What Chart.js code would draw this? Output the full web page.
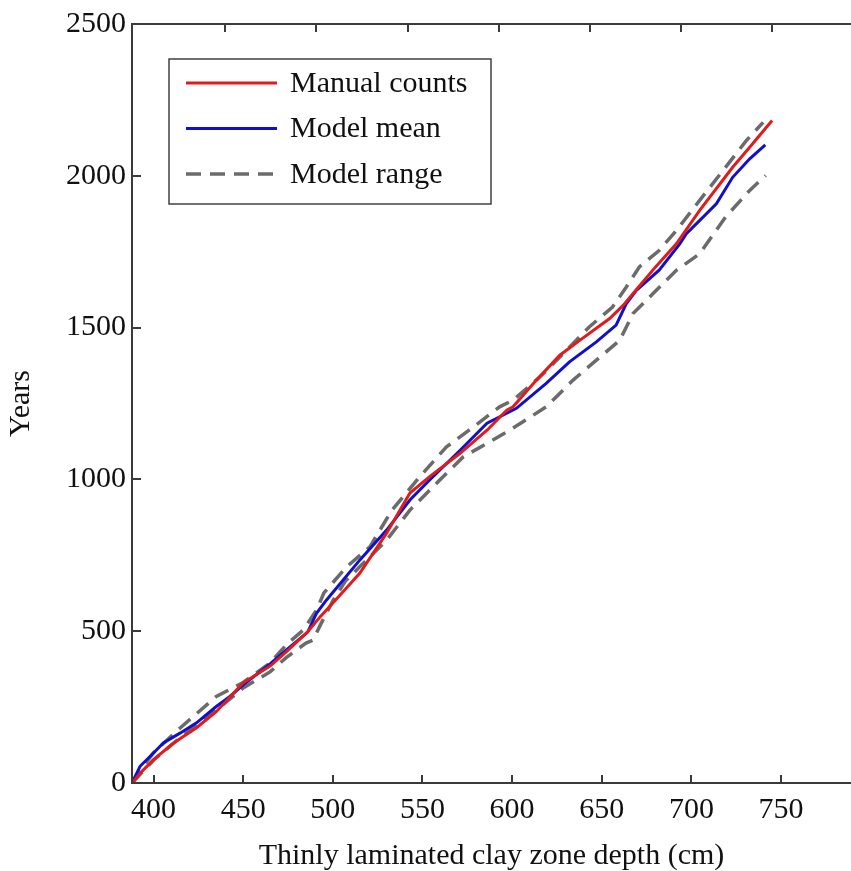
<!DOCTYPE html>
<html>
<head>
<meta charset="utf-8">
<script src="https://cdn.jsdelivr.net/npm/chart.js@4.4.1/dist/chart.umd.min.js"></script>
<style>
  html, body { margin: 0; padding: 0; background: #fff; overflow: hidden; }
  canvas { display: block; }
</style>
</head>
<body>
<canvas id="myChart" width="851" height="871"></canvas>
<script>
// depth (cm) and age (years)
const manualDepth = [388, 393, 400, 411, 424, 435, 450, 465, 474, 486, 493, 498, 515, 530, 543, 554, 571, 586, 597, 600.5, 613.6, 626.6, 637.7, 654.4, 661.9, 669, 680, 691.6, 704.6, 723, 732.5, 745];
const manualYears = [0, 35, 77, 131, 182, 235, 330, 385, 432, 498, 548, 580, 691, 823, 955, 1009, 1086, 1162, 1228, 1239, 1327, 1409, 1458, 1530, 1573, 1623, 1700, 1776, 1886, 2028, 2094, 2182];

const meanDepth = [388, 392.5, 400, 405.5, 415, 424, 435, 442.6, 450, 465, 474, 486, 491, 496.5, 515, 530, 543, 554, 571, 586, 597, 602.4, 619, 632, 647, 658, 663.7, 669.3, 682, 693.5, 697.2, 713.9, 723, 732.5, 741.2];
const meanYears = [0, 55, 99, 132, 165, 198, 252, 285, 323, 392, 438, 497, 560, 603, 734, 833, 932, 998, 1096, 1185, 1218, 1234, 1316, 1387, 1453, 1508, 1579, 1623, 1689, 1776, 1809, 1908, 1995, 2056, 2102];

const upperDepth = [388, 395, 400, 415, 435, 450, 465, 474, 483.5, 491, 495, 507.7, 520.7, 533, 548.5, 563.4, 576, 593, 600.5, 615.4, 630.3, 643, 656, 663.7, 671, 682, 691.6, 704.6, 719, 730.6, 740];
const upperYears = [0, 60, 100, 182, 285, 331, 395, 455, 504, 570, 626, 712, 778, 899, 1009, 1107, 1162, 1239, 1261, 1337, 1425, 1502, 1568, 1634, 1700, 1754, 1820, 1919, 2028, 2116, 2176];

const lowerDepth = [388, 400, 415, 435, 450, 465, 474, 485, 489, 493, 500, 507, 515, 530, 543, 558, 572.7, 586, 598.7, 619, 634, 649, 660, 667.4, 678.6, 691.6, 704.6, 719, 732.5, 741.4];
const lowerYears = [0, 75, 150, 240, 313, 366, 413, 461, 471, 520, 600, 665, 712, 800, 899, 988, 1074, 1119, 1162, 1239, 1327, 1403, 1458, 1546, 1612, 1689, 1743, 1864, 1952, 2001];

const xTicks = [400, 450, 500, 550, 600, 650, 700, 750];
const yTicks = [0, 500, 1000, 1500, 2000, 2500];
const topTicks = [450, 500, 550, 600, 650, 700, 750];

const FONT = "'Liberation Serif', 'Times New Roman', serif";
const AXIS_COLOR = '#3a3a3a';

function pts(xs, ys) {
    return xs.map(function (x, i) { return { x: x, y: ys[i] }; });
}

// frame with inward ticks + legend box
const framePlugin = {
    id: 'frame',
    afterDraw(chart) {
        const ctx = chart.ctx;
        const a = chart.chartArea;
        const x = chart.scales.x;
        const y = chart.scales.y;
        const xt = chart.scales.xTop;
        ctx.save();
        ctx.strokeStyle = AXIS_COLOR;
        ctx.lineWidth = 2;
        ctx.beginPath();
        ctx.moveTo(a.right, a.top);
        ctx.lineTo(a.left, a.top);
        ctx.lineTo(a.left, a.bottom);
        ctx.lineTo(a.right, a.bottom);
        xTicks.forEach(function (v) {
            const px = Math.round(x.getPixelForValue(v));
            ctx.moveTo(px, a.bottom);
            ctx.lineTo(px, a.bottom - 8);
        });
        topTicks.forEach(function (v) {
            const px = Math.round(xt.getPixelForValue(v));
            ctx.moveTo(px, a.top);
            ctx.lineTo(px, a.top + 8);
        });
        yTicks.forEach(function (v) {
            const py = Math.round(y.getPixelForValue(v));
            ctx.moveTo(a.left, py);
            ctx.lineTo(a.left + 9, py);
        });
        ctx.stroke();

        // legend
        const boxL = 169, boxT = 59, boxW = 322, boxH = 145;
        ctx.fillStyle = '#fff';
        ctx.fillRect(boxL, boxT, boxW, boxH);
        ctx.lineWidth = 1.5;
        ctx.strokeStyle = '#404040';
        ctx.strokeRect(boxL, boxT, boxW, boxH);
        const seen = [];
        let row = 0;
        chart.data.datasets.forEach(function (ds) {
            if (seen.indexOf(ds.label) >= 0) return;
            seen.push(ds.label);
            const ly = boxT + 24 + row * 45.5;
            ctx.beginPath();
            ctx.strokeStyle = ds.borderColor;
            ctx.lineWidth = ds.borderWidth;
            ctx.setLineDash(ds.borderDash || []);
            ctx.moveTo(186, ly);
            ctx.lineTo(277, ly);
            ctx.stroke();
            ctx.setLineDash([]);
            ctx.fillStyle = '#111';
            ctx.font = '30px ' + FONT;
            ctx.textBaseline = 'middle';
            ctx.textAlign = 'left';
            ctx.fillText(ds.label, 290, ly + 1);
            row++;
        });
        ctx.restore();
    }
};

const ctx = document.getElementById('myChart').getContext('2d');
const myChart = new Chart(ctx, {
    type: 'line',
    data: {
        datasets: [
            {
                label: 'Manual counts',
                data: pts(manualDepth, manualYears),
                borderColor: '#e01b1b',
                borderWidth: 3,
                order: 0
            },
            {
                label: 'Model mean',
                data: pts(meanDepth, meanYears),
                borderColor: '#1010cc',
                borderWidth: 3,
                order: 1
            },
            {
                label: 'Model range',
                data: pts(upperDepth, upperYears),
                borderColor: '#6b6b6b',
                borderWidth: 3.5,
                borderDash: [15, 9],
                order: 2
            },
            {
                label: 'Model range',
                data: pts(lowerDepth, lowerYears),
                borderColor: '#6b6b6b',
                borderWidth: 3.5,
                borderDash: [15, 9],
                order: 2
            }
        ]
    },
    options: {
        responsive: false,
        animation: false,
        elements: {
            point: { radius: 0 },
            line: { tension: 0, fill: false }
        },
        layout: { padding: { top: 23, right: 0, left: 0, bottom: 0 } },
        plugins: {
            legend: { display: false },
            tooltip: { enabled: false }
        },
        scales: {
            x: {
                type: 'linear',
                position: 'bottom',
                min: 388,
                max: 789,
                afterBuildTicks: function (scale) {
                    scale.ticks = xTicks.map(function (v) { return { value: v }; });
                },
                afterFit: function (scale) { scale.height = 88; },
                grid: { display: false, drawTicks: false },
                border: { display: false },
                ticks: {
                    color: '#111',
                    padding: 9,
                    maxRotation: 0,
                    font: { family: FONT, size: 30 },
                    callback: function (v) { return String(v); }
                },
                title: {
                    display: true,
                    text: 'Thinly laminated clay zone depth (cm)',
                    color: '#111',
                    padding: { top: 0, bottom: 0 },
                    font: { family: FONT, size: 30, lineHeight: 1.0 }
                }
            },
            xTop: {
                type: 'linear',
                position: 'top',
                display: false,
                min: 398.8,
                max: 793.4
            },
            y: {
                type: 'linear',
                min: 0,
                max: 2500,
                afterBuildTicks: function (scale) {
                    scale.ticks = yTicks.map(function (v) { return { value: v }; });
                },
                afterFit: function (scale) { scale.width = 132; },
                grid: { display: false, drawTicks: false },
                border: { display: false },
                ticks: {
                    color: '#111',
                    padding: 6,
                    font: { family: FONT, size: 30 },
                    callback: function (v) { return String(v); }
                },
                title: {
                    display: true,
                    text: 'Years',
                    color: '#111',
                    padding: { top: 6, bottom: 0 },
                    font: { family: FONT, size: 30, lineHeight: 1.0 }
                }
            }
        }
    },
    plugins: [framePlugin]
});
</script>
</body>
</html>
